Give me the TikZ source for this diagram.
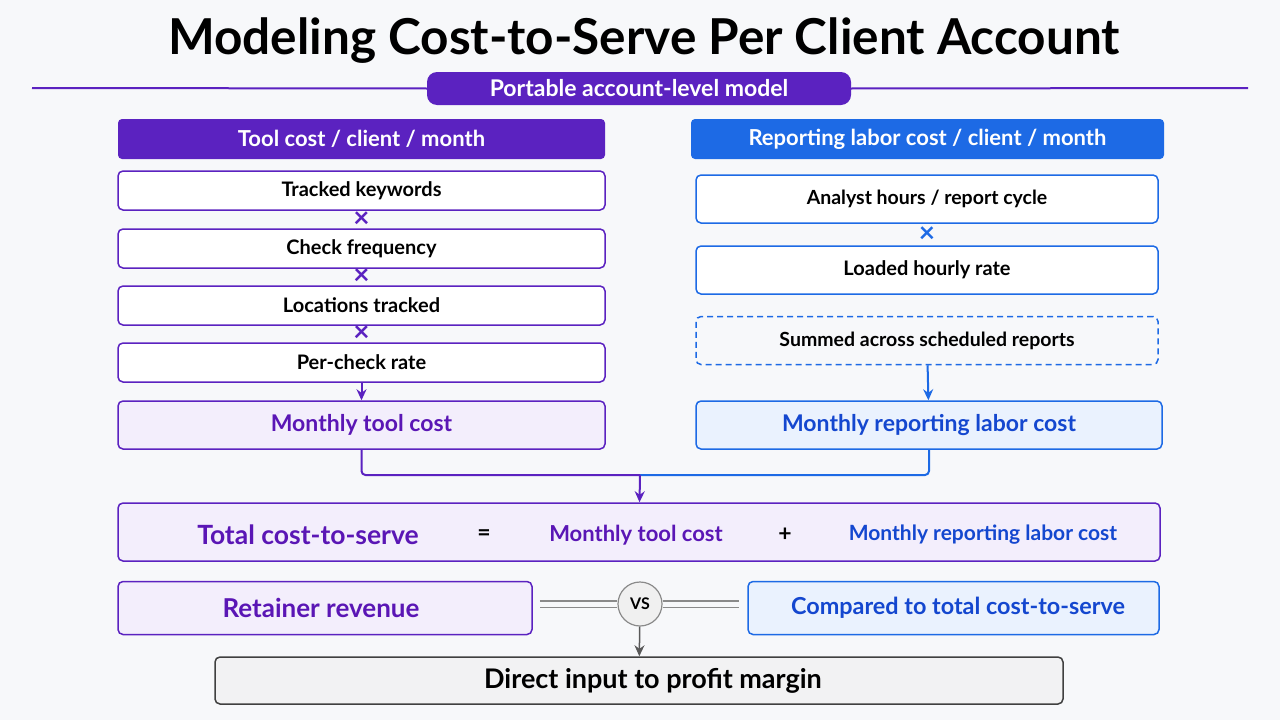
\documentclass[tikz,border=0pt]{standalone}
\usepackage{fontspec}
\setmainfont{Lato}
\usetikzlibrary{positioning,calc,arrows.meta}

\definecolor{bgcol}{HTML}{F7F8FA}
\definecolor{toolpurple}{HTML}{5B22C0}
\definecolor{toolink}{HTML}{5A16B5}
\definecolor{toolfill}{HTML}{F3EEFC}
\definecolor{laborblue}{HTML}{1D6AE5}
\definecolor{laborink}{HTML}{1447CF}
\definecolor{laborfill}{HTML}{EAF2FE}
\definecolor{vsgray}{HTML}{8A8A8A}
\definecolor{outfill}{HTML}{F2F2F3}

\newcommand{\fsz}[1]{\fontsize{#1}{#1}\selectfont}

\begin{document}
\begin{tikzpicture}[x=1pt, y=-1pt, >={Stealth[length=11pt,width=10pt]},
  every node/.style={font=\bfseries},
  header/.style={rounded corners=4pt, text=white, minimum height=40pt, font=\bfseries\fsz{22}},
  factor/.style={draw=toolpurple, line width=1.5pt, fill=white, rounded corners=5pt,
                 minimum width=487pt, minimum height=39pt, font=\bfseries\fsz{20}},
  rfactor/.style={factor, draw=laborblue, minimum width=462pt, minimum height=48pt},
  times/.style={text=#1, font=\bfseries\fsz{28}, inner sep=0pt},
  result/.style={draw=toolpurple, line width=1.5pt, fill=toolfill, rounded corners=5pt,
                 text=toolink, minimum height=48pt, font=\bfseries\fsz{23}},
  rresult/.style={result, draw=laborblue, fill=laborfill, text=laborink},
  link/.style={line width=2pt},
  rail/.style={vsgray, double=bgcol, double distance=5pt, line width=1.8pt},
]
\path[fill=bgcol] (0,0) rectangle (1280,720);

\node[font=\bfseries\fsz{49.5}] (title) at (644,41) {Modeling Cost-to-Serve Per Client Account};
\node[fill=toolpurple, text=white, rounded corners=10pt, minimum width=424pt, minimum height=33pt,
      font=\bfseries\fsz{23}] (pill) at (639,88.5) {Portable account-level model};
\draw[toolpurple, link] (32,88) -- (pill.west) (pill.east) -- (1248,88);

% tool cost column
\node[header, fill=toolpurple, minimum width=487pt] (toolhead) at (361.5,139) {Tool cost / client / month};
\node[factor] (keywords) at (361.5,190.5) {Tracked keywords};
\node[factor] (frequency) at (361.5,248.5) {Check frequency};
\node[factor] (locations) at (361.5,305.5) {Locations tracked};
\node[factor] (rate) at (361.5,362.5) {Per-check rate};
\node[result, minimum width=487pt] (toolcost) at (361.5,425) {Monthly tool cost};
\node[times=toolpurple] (x1) at ($(keywords.south)!.5!(frequency.north)$) {×};
\node[times=toolpurple] (x2) at ($(frequency.south)!.5!(locations.north)$) {×};
\node[times=toolpurple] (x3) at ($(locations.south)!.5!(rate.north)$) {×};

% labor cost column
\node[header, fill=laborblue, minimum width=473pt] (laborhead) at (927.5,139) {Reporting labor cost / client / month};
\node[rfactor, font=\bfseries\fsz{19.5}] (hours) at (927,199) {Analyst hours / report cycle};
\node[rfactor] (hourly) at (927,270) {Loaded hourly rate};
\node[rfactor, dashed, dash pattern=on 6pt off 4pt, fill=none, font=\bfseries\fsz{19.5}] (summed) at (927,340.5) {Summed across scheduled reports};
\node[rresult, minimum width=466pt] (laborcost) at (929,425) {Monthly reporting labor cost};
\node[times=laborblue] (x4) at ($(hours.south)!.5!(hourly.north)$) {×};

\coordinate (join) at (640,475);
\node[result, minimum width=1042pt, minimum height=58pt] (total) at (639,532) {};
\node[text=toolink, font=\bfseries\fsz{26.5}] (totlabel) at (308,535) {Total cost-to-serve};
\node[font=\bfseries\fsz{23}] (equals) at (484,535) {=};
\node[text=toolink, font=\bfseries\fsz{22}] (totool) at (636,535) {Monthly tool cost};
\node[font=\bfseries\fsz{23}] (plus) at (785,535) {+};
\node[text=laborink, font=\bfseries\fsz{21}] (tolabor) at (983,535) {Monthly reporting labor cost};

\node[result, minimum width=414pt, minimum height=53pt, font=\bfseries\fsz{26}] (retainer) at (325,608) {\hspace*{-8pt}Retainer revenue};
\node[rresult, minimum width=411pt, minimum height=53pt, font=\bfseries\fsz{23.4}] (compared) at (953.5,608) {\hspace*{9pt}Compared to total cost-to-serve};
\node[circle, draw=vsgray, line width=1.2pt, fill=gray!12, minimum size=44pt, inner sep=0pt,
      font=\bfseries\fsz{16}] (vs) at (640,604) {VS};
\node[draw=black!75, line width=1.5pt, fill=outfill, rounded corners=5pt, minimum width=848pt,
      minimum height=47pt, font=\bfseries\fsz{27}] (margin) at (639,680.5) {\hspace*{28pt}Direct input to profit margin};

\draw[->, toolpurple, link] (rate) -- (toolcost);
\draw[->, laborblue, link] (summed) -- (laborcost);
\draw[toolpurple, link, rounded corners=4pt] (toolcost.south) |- (join);
\draw[laborblue, link, rounded corners=4pt] (join) -| (laborcost.south);
\draw[->, toolpurple, link] (join) -- (total);
\draw[rail, shorten <=7pt] (retainer.east |- vs) -- (vs);
\draw[rail, shorten >=8pt] (vs) -- (compared.west |- vs);
\draw[->, black!65, line width=1.5pt] (vs) -- (margin);
\end{tikzpicture}
\end{document}
